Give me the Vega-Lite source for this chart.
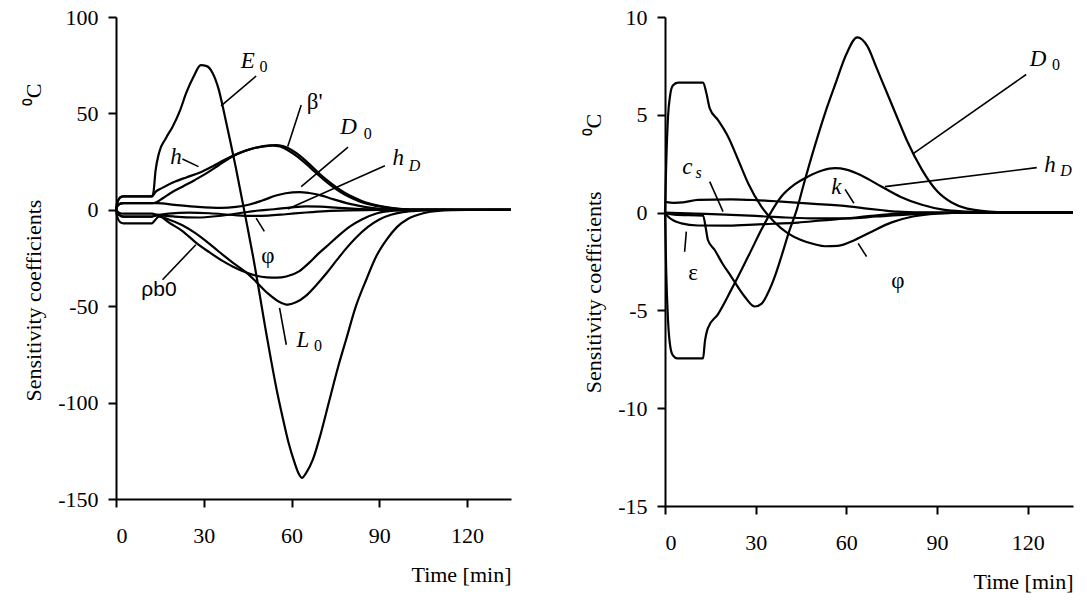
{
"$schema": "https://vega.github.io/schema/vega-lite/v6.json",
"padding": {"left": 22, "top": 6, "right": 5, "bottom": 5},
"background": "white",
"config": {
  "view": {"stroke": null},
  "font": "Liberation Serif",
  "axis": {"grid": false, "domainColor": "black", "domainWidth": 2, "tickColor": "black", "tickWidth": 2, "tickSize": 8,
    "labelFont": "Liberation Serif", "labelFontSize": 22, "labelColor": "black",
    "titleFont": "Liberation Serif", "titleFontSize": 22, "titleFontWeight": "normal", "titleColor": "black"}
},
"datasets": {
"linesL": [
{"s":"E0","t":0,"v":0},{"s":"E0","t":0.5,"v":4},{"s":"E0","t":1.5,"v":6.5},{"s":"E0","t":2.5,"v":7},{"s":"E0","t":12.3,"v":7},{"s":"E0","t":12.8,"v":9},{"s":"E0","t":13.5,"v":20},{"s":"E0","t":14.7,"v":29.5},{"s":"E0","t":17,"v":37},{"s":"E0","t":19.3,"v":43},{"s":"E0","t":22,"v":52},{"s":"E0","t":24,"v":60.6},{"s":"E0","t":26.5,"v":69},{"s":"E0","t":29,"v":75},{"s":"E0","t":31,"v":74.5},{"s":"E0","t":33,"v":71},{"s":"E0","t":35,"v":63},{"s":"E0","t":37,"v":50},{"s":"E0","t":39,"v":36},{"s":"E0","t":41,"v":21.5},{"s":"E0","t":43,"v":6},{"s":"E0","t":45,"v":-9.5},{"s":"E0","t":47,"v":-25.5},{"s":"E0","t":49,"v":-43},{"s":"E0","t":51,"v":-61},{"s":"E0","t":53,"v":-78},{"s":"E0","t":55,"v":-94},{"s":"E0","t":57,"v":-108},{"s":"E0","t":59,"v":-121},{"s":"E0","t":61,"v":-131},{"s":"E0","t":62.5,"v":-137},{"s":"E0","t":63.5,"v":-139},{"s":"E0","t":65,"v":-136.5},{"s":"E0","t":67.3,"v":-129.5},{"s":"E0","t":70,"v":-116},{"s":"E0","t":73,"v":-98.4},{"s":"E0","t":76,"v":-81},{"s":"E0","t":78.7,"v":-67},{"s":"E0","t":82,"v":-50},{"s":"E0","t":85.6,"v":-36},{"s":"E0","t":89,"v":-24},{"s":"E0","t":92.5,"v":-15.5},{"s":"E0","t":96,"v":-9},{"s":"E0","t":100,"v":-4.5},{"s":"E0","t":105,"v":-1.8},{"s":"E0","t":110,"v":-0.6},{"s":"E0","t":120,"v":-0.1},{"s":"E0","t":135,"v":0},
{"s":"h","t":0,"v":0},{"s":"h","t":0.5,"v":4},{"s":"h","t":1.5,"v":6.5},{"s":"h","t":2.5,"v":7},{"s":"h","t":12.3,"v":7},{"s":"h","t":13.5,"v":9.3},{"s":"h","t":16,"v":11.5},{"s":"h","t":20,"v":14.5},{"s":"h","t":24,"v":16.8},{"s":"h","t":28.5,"v":19.2},{"s":"h","t":33,"v":22.5},{"s":"h","t":37,"v":25.8},{"s":"h","t":42,"v":29.4},{"s":"h","t":46,"v":31.5},{"s":"h","t":50,"v":32.8},{"s":"h","t":53.6,"v":33.3},{"s":"h","t":56,"v":32.8},{"s":"h","t":59,"v":30.6},{"s":"h","t":62,"v":27.6},{"s":"h","t":65,"v":23.8},{"s":"h","t":68,"v":19.6},{"s":"h","t":71,"v":15.6},{"s":"h","t":74,"v":12},{"s":"h","t":77,"v":9},{"s":"h","t":80,"v":6.5},{"s":"h","t":83,"v":4.5},{"s":"h","t":86,"v":3},{"s":"h","t":89,"v":2},{"s":"h","t":93,"v":1},{"s":"h","t":97,"v":0.4},{"s":"h","t":105,"v":0.1},{"s":"h","t":135,"v":0},
{"s":"b","t":0,"v":0},{"s":"b","t":0.5,"v":2},{"s":"b","t":1.5,"v":3.2},{"s":"b","t":2.5,"v":3.5},{"s":"b","t":12.3,"v":3.5},{"s":"b","t":13.6,"v":3.8},{"s":"b","t":16,"v":6},{"s":"b","t":19,"v":9},{"s":"b","t":22.7,"v":12},{"s":"b","t":27,"v":15.5},{"s":"b","t":31,"v":19},{"s":"b","t":35,"v":23},{"s":"b","t":39.8,"v":27.6},{"s":"b","t":44,"v":30.5},{"s":"b","t":48,"v":32.3},{"s":"b","t":51,"v":33.2},{"s":"b","t":54.7,"v":33.6},{"s":"b","t":57,"v":33},{"s":"b","t":60,"v":31},{"s":"b","t":63,"v":27.8},{"s":"b","t":66,"v":23.8},{"s":"b","t":69,"v":19.5},{"s":"b","t":72,"v":15.5},{"s":"b","t":75,"v":12},{"s":"b","t":78,"v":9},{"s":"b","t":81,"v":6.6},{"s":"b","t":84,"v":4.6},{"s":"b","t":87,"v":3.1},{"s":"b","t":90,"v":2},{"s":"b","t":94,"v":1},{"s":"b","t":98,"v":0.4},{"s":"b","t":105,"v":0.1},{"s":"b","t":135,"v":0},
{"s":"D0","t":0,"v":0},{"s":"D0","t":0.5,"v":2},{"s":"D0","t":1.5,"v":3.2},{"s":"D0","t":2.5,"v":3.5},{"s":"D0","t":12.3,"v":3.5},{"s":"D0","t":14,"v":3.5},{"s":"D0","t":20,"v":2.6},{"s":"D0","t":28,"v":1.5},{"s":"D0","t":36,"v":1},{"s":"D0","t":41,"v":1.5},{"s":"D0","t":45.3,"v":2.6},{"s":"D0","t":50,"v":4.8},{"s":"D0","t":54.7,"v":7.4},{"s":"D0","t":58,"v":8.6},{"s":"D0","t":62.7,"v":9.2},{"s":"D0","t":66,"v":8.7},{"s":"D0","t":70,"v":7.5},{"s":"D0","t":74,"v":5.6},{"s":"D0","t":79.9,"v":3.1},{"s":"D0","t":84,"v":1.8},{"s":"D0","t":87.9,"v":0.9},{"s":"D0","t":94.8,"v":0.15},{"s":"D0","t":105,"v":0},{"s":"D0","t":135,"v":0},
{"s":"hD","t":0,"v":0},{"s":"hD","t":1,"v":-1.5},{"s":"hD","t":2.5,"v":-2},{"s":"hD","t":12.3,"v":-2},{"s":"hD","t":14,"v":-2.5},{"s":"hD","t":20,"v":-3.5},{"s":"hD","t":28,"v":-4},{"s":"hD","t":35,"v":-3.2},{"s":"hD","t":42,"v":-1.8},{"s":"hD","t":48,"v":-0.5},{"s":"hD","t":54,"v":0.3},{"s":"hD","t":60,"v":1.3},{"s":"hD","t":65,"v":1.8},{"s":"hD","t":70,"v":1.6},{"s":"hD","t":76,"v":1},{"s":"hD","t":82,"v":0.5},{"s":"hD","t":90,"v":0.15},{"s":"hD","t":100,"v":0},{"s":"hD","t":135,"v":0},
{"s":"phi","t":0,"v":0},{"s":"phi","t":1,"v":-2.5},{"s":"phi","t":2.5,"v":-3.5},{"s":"phi","t":12.3,"v":-3.5},{"s":"phi","t":13.5,"v":-3},{"s":"phi","t":18,"v":-2},{"s":"phi","t":25,"v":-1.5},{"s":"phi","t":32,"v":-1.8},{"s":"phi","t":40,"v":-2.7},{"s":"phi","t":46,"v":-3.2},{"s":"phi","t":52,"v":-3},{"s":"phi","t":58,"v":-2.3},{"s":"phi","t":65,"v":-1.4},{"s":"phi","t":72,"v":-0.7},{"s":"phi","t":80,"v":-0.3},{"s":"phi","t":90,"v":-0.05},{"s":"phi","t":100,"v":0},{"s":"phi","t":135,"v":0},
{"s":"rho","t":0,"v":0},{"s":"rho","t":1,"v":-2.5},{"s":"rho","t":2.5,"v":-3.5},{"s":"rho","t":12.3,"v":-3.5},{"s":"rho","t":13.5,"v":-2.8},{"s":"rho","t":15,"v":-3.2},{"s":"rho","t":18,"v":-6.5},{"s":"rho","t":22.7,"v":-11},{"s":"rho","t":27.3,"v":-17},{"s":"rho","t":31.9,"v":-22},{"s":"rho","t":36.4,"v":-26.5},{"s":"rho","t":40,"v":-29.5},{"s":"rho","t":44.5,"v":-32.5},{"s":"rho","t":48,"v":-34.2},{"s":"rho","t":51.5,"v":-35},{"s":"rho","t":55,"v":-35.2},{"s":"rho","t":58.2,"v":-34.6},{"s":"rho","t":62.7,"v":-31.8},{"s":"rho","t":66,"v":-27.5},{"s":"rho","t":69,"v":-23},{"s":"rho","t":72,"v":-19},{"s":"rho","t":76,"v":-13.5},{"s":"rho","t":80,"v":-8.6},{"s":"rho","t":84,"v":-5},{"s":"rho","t":89,"v":-1.9},{"s":"rho","t":94,"v":-0.6},{"s":"rho","t":100,"v":-0.15},{"s":"rho","t":110,"v":0},{"s":"rho","t":135,"v":0},
{"s":"L0","t":0,"v":0},{"s":"L0","t":0.5,"v":-4},{"s":"L0","t":1.5,"v":-6.5},{"s":"L0","t":2.5,"v":-7},{"s":"L0","t":12.3,"v":-7},{"s":"L0","t":13,"v":-6},{"s":"L0","t":14.7,"v":-3.5},{"s":"L0","t":18,"v":-5},{"s":"L0","t":22.7,"v":-8},{"s":"L0","t":27,"v":-12},{"s":"L0","t":31,"v":-16.5},{"s":"L0","t":35,"v":-21.5},{"s":"L0","t":40,"v":-27.5},{"s":"L0","t":44.5,"v":-32.5},{"s":"L0","t":48,"v":-37.5},{"s":"L0","t":52,"v":-43.5},{"s":"L0","t":55.9,"v":-47.8},{"s":"L0","t":58.7,"v":-49.2},{"s":"L0","t":61.5,"v":-48},{"s":"L0","t":65,"v":-44.5},{"s":"L0","t":68.5,"v":-39},{"s":"L0","t":72,"v":-32.8},{"s":"L0","t":75.5,"v":-26},{"s":"L0","t":78.7,"v":-20},{"s":"L0","t":82,"v":-14.5},{"s":"L0","t":86,"v":-9},{"s":"L0","t":90,"v":-5},{"s":"L0","t":94,"v":-2.6},{"s":"L0","t":98,"v":-1.2},{"s":"L0","t":104,"v":-0.4},{"s":"L0","t":112,"v":0},{"s":"L0","t":135,"v":0}
],
"linesR": [
{"s":"phi","t":0,"v":0},{"s":"phi","t":0.4,"v":2.5},{"s":"phi","t":1,"v":4.9},{"s":"phi","t":1.7,"v":6},{"s":"phi","t":2.6,"v":6.5},{"s":"phi","t":4.3,"v":6.65},{"s":"phi","t":12.6,"v":6.65},{"s":"phi","t":13.7,"v":6.1},{"s":"phi","t":14.8,"v":5.33},{"s":"phi","t":17.5,"v":4.74},{"s":"phi","t":20.8,"v":3.9},{"s":"phi","t":24.2,"v":2.7},{"s":"phi","t":27.5,"v":1.5},{"s":"phi","t":31.9,"v":0.3},{"s":"phi","t":36,"v":-0.45},{"s":"phi","t":40.7,"v":-1.06},{"s":"phi","t":45,"v":-1.4},{"s":"phi","t":49.5,"v":-1.62},{"s":"phi","t":53,"v":-1.72},{"s":"phi","t":57.2,"v":-1.7},{"s":"phi","t":62.8,"v":-1.4},{"s":"phi","t":68,"v":-1.0},{"s":"phi","t":75,"v":-0.5},{"s":"phi","t":82,"v":-0.2},{"s":"phi","t":90,"v":-0.05},{"s":"phi","t":100,"v":0},{"s":"phi","t":135,"v":0},
{"s":"hD","t":0,"v":0},{"s":"hD","t":0.4,"v":-3},{"s":"hD","t":1,"v":-5.5},{"s":"hD","t":1.7,"v":-6.8},{"s":"hD","t":2.6,"v":-7.3},{"s":"hD","t":4,"v":-7.45},{"s":"hD","t":12.6,"v":-7.45},{"s":"hD","t":13.2,"v":-6.6},{"s":"hD","t":14.2,"v":-5.9},{"s":"hD","t":17.5,"v":-5.2},{"s":"hD","t":21.9,"v":-3.95},{"s":"hD","t":27.5,"v":-2.25},{"s":"hD","t":33,"v":-0.55},{"s":"hD","t":38.5,"v":0.82},{"s":"hD","t":43,"v":1.45},{"s":"hD","t":47.3,"v":1.84},{"s":"hD","t":52,"v":2.15},{"s":"hD","t":56.2,"v":2.27},{"s":"hD","t":60,"v":2.2},{"s":"hD","t":65,"v":1.9},{"s":"hD","t":71.6,"v":1.33},{"s":"hD","t":78,"v":0.8},{"s":"hD","t":85,"v":0.4},{"s":"hD","t":92,"v":0.15},{"s":"hD","t":100,"v":0.05},{"s":"hD","t":110,"v":0},{"s":"hD","t":135,"v":0},
{"s":"D0","t":0,"v":0},{"s":"D0","t":3,"v":-0.1},{"s":"D0","t":12.6,"v":-0.15},{"s":"D0","t":13.5,"v":-0.8},{"s":"D0","t":14.2,"v":-1.4},{"s":"D0","t":16.4,"v":-1.9},{"s":"D0","t":19,"v":-2.6},{"s":"D0","t":21.9,"v":-3.27},{"s":"D0","t":26.4,"v":-4.3},{"s":"D0","t":29.7,"v":-4.8},{"s":"D0","t":32,"v":-4.65},{"s":"D0","t":34.1,"v":-4.1},{"s":"D0","t":36.5,"v":-3.2},{"s":"D0","t":38.5,"v":-2.25},{"s":"D0","t":41,"v":-1.0},{"s":"D0","t":43.5,"v":0.1},{"s":"D0","t":46,"v":1.5},{"s":"D0","t":49.5,"v":3.37},{"s":"D0","t":53,"v":5.1},{"s":"D0","t":56.2,"v":6.5},{"s":"D0","t":60,"v":8.1},{"s":"D0","t":63.6,"v":8.96},{"s":"D0","t":67,"v":8.5},{"s":"D0","t":70,"v":7.4},{"s":"D0","t":73.5,"v":6.1},{"s":"D0","t":77,"v":4.8},{"s":"D0","t":80,"v":3.7},{"s":"D0","t":85,"v":2.2},{"s":"D0","t":90,"v":1.1},{"s":"D0","t":95,"v":0.5},{"s":"D0","t":100,"v":0.2},{"s":"D0","t":110,"v":0.03},{"s":"D0","t":135,"v":0},
{"s":"k","t":0,"v":0.55},{"s":"k","t":3,"v":0.5},{"s":"k","t":6,"v":0.52},{"s":"k","t":10.9,"v":0.65},{"s":"k","t":21.9,"v":0.68},{"s":"k","t":30,"v":0.64},{"s":"k","t":38.5,"v":0.56},{"s":"k","t":47,"v":0.47},{"s":"k","t":55,"v":0.39},{"s":"k","t":60,"v":0.33},{"s":"k","t":66,"v":0.22},{"s":"k","t":72,"v":0.12},{"s":"k","t":77,"v":0.05},{"s":"k","t":85,"v":0.01},{"s":"k","t":95,"v":0},{"s":"k","t":135,"v":0},
{"s":"cs","t":0,"v":0},{"s":"cs","t":10,"v":-0.05},{"s":"cs","t":20,"v":-0.1},{"s":"cs","t":30,"v":-0.17},{"s":"cs","t":40,"v":-0.25},{"s":"cs","t":50,"v":-0.3},{"s":"cs","t":60,"v":-0.3},{"s":"cs","t":70,"v":-0.2},{"s":"cs","t":80,"v":-0.1},{"s":"cs","t":90,"v":-0.03},{"s":"cs","t":100,"v":0},{"s":"cs","t":135,"v":0},
{"s":"eps","t":0,"v":0},{"s":"eps","t":1,"v":-0.2},{"s":"eps","t":3,"v":-0.42},{"s":"eps","t":5.4,"v":-0.55},{"s":"eps","t":10.9,"v":-0.66},{"s":"eps","t":20,"v":-0.67},{"s":"eps","t":27.5,"v":-0.63},{"s":"eps","t":36,"v":-0.57},{"s":"eps","t":44,"v":-0.51},{"s":"eps","t":52,"v":-0.4},{"s":"eps","t":60.6,"v":-0.29},{"s":"eps","t":68,"v":-0.17},{"s":"eps","t":77,"v":-0.05},{"s":"eps","t":85,"v":-0.01},{"s":"eps","t":95,"v":0},{"s":"eps","t":135,"v":0}
],
"leadL": [
{"t":47.9,"v":69.4,"t2":35.9,"v2":53.9},
{"t":63.3,"v":54.4,"t2":58.7,"v2":32.8},
{"t":79.3,"v":32.5,"t2":63.3,"v2":12},
{"t":91.9,"v":22.8,"t2":58.7,"v2":0.4},
{"t":22.7,"v":26.3,"t2":28.2,"v2":22.4},
{"t":47.9,"v":-4.3,"t2":50.7,"v2":-11.2},
{"t":15.9,"v":-36.3,"t2":27.3,"v2":-18.1},
{"t":58.2,"v":-70,"t2":55.9,"v2":-50.9}
],
"leadR": [
{"t":14.8,"v":1.58,"t2":19.2,"v2":0.05},
{"t":59.6,"v":1.19,"t2":62.5,"v2":0.48},
{"t":7.05,"v":-0.97,"t2":6.5,"v2":-2.0},
{"t":63.9,"v":-1.57,"t2":66.7,"v2":-2.25},
{"t":72.8,"v":1.33,"t2":123,"v2":2.3},
{"t":119.5,"v":7.06,"t2":82,"v2":3.0}
],
"labL": [
{"t":45,"v":77.4,"txt":"E","f":"it"},
{"t":50.4,"v":74.2,"txt":"0","f":"sub"},
{"t":67.9,"v":56,"txt":"β'","f":"up"},
{"t":79.5,"v":43,"txt":"D","f":"it"},
{"t":86,"v":39.5,"txt":"0","f":"sub"},
{"t":96.5,"v":26.8,"txt":"h","f":"it"},
{"t":102,"v":22.8,"txt":"D","f":"subit"},
{"t":20.5,"v":27.6,"txt":"h","f":"it"},
{"t":51.9,"v":-24.2,"txt":"φ","f":"up"},
{"t":14.7,"v":-41.5,"txt":"ρb0","f":"sans"},
{"t":63.9,"v":-67.4,"txt":"L","f":"it"},
{"t":69,"v":-70.8,"txt":"0","f":"sub"}
],
"labR": [
{"t":123.4,"v":7.87,"txt":"D","f":"it"},
{"t":129.4,"v":7.57,"txt":"0","f":"sub"},
{"t":127.4,"v":2.45,"txt":"h","f":"it"},
{"t":132.7,"v":2.15,"txt":"D","f":"subit"},
{"t":7.4,"v":2.35,"txt":"c","f":"it"},
{"t":11.1,"v":2.0,"txt":"s","f":"subit"},
{"t":56.7,"v":1.33,"txt":"k","f":"it"},
{"t":9.3,"v":-3.1,"txt":"ε","f":"up"},
{"t":77.1,"v":-3.5,"txt":"φ","f":"up"}
]
},
"hconcat": [
{
  "width": 395, "height": 482,
  "encoding": {
    "x": {"field": "t", "type": "quantitative", "scale": {"domain": [0, 135], "nice": false, "zero": false},
      "axis": {"values": [0, 30, 60, 90, 120], "title": "Time [min]", "titleAnchor": "end", "labelPadding": 18, "titlePadding": 18,
        "labelFont": "Liberation Serif", "titleFont": "Liberation Serif"}},
    "y": {"field": "v", "type": "quantitative", "scale": {"domain": [-150, 100], "nice": false, "zero": false},
      "axis": {"values": [-150, -100, -50, 0, 50, 100], "labelExpr": "'' + datum.value",
        "title": "Sensitivity coefficients\u00a0\u00a0\u00a0\u00a0\u00a0\u00a0\u00a0\u00a0\u00a0\u00a0\u00a0\u00a0\u00a0\u00a0\u00a0\u00a0\u00a0\u2070C",
        "titleY": 225, "labelPadding": 10, "titlePadding": 12, "labelFont": "Liberation Serif", "titleFont": "Liberation Serif"}}
  },
  "layer": [
    {"data": {"name": "linesL"}, "mark": {"type": "line", "color": "black", "strokeWidth": 2.2, "interpolate": "monotone"},
     "encoding": {"detail": {"field": "s"}}},
    {"data": {"name": "leadL"}, "mark": {"type": "rule", "color": "black", "strokeWidth": 1.6},
     "encoding": {"x2": {"field": "t2"}, "y2": {"field": "v2"}}},
    {"data": {"name": "labL"}, "transform": [{"filter": "datum.f==='it'"}], "mark": {"type": "text", "font": "Liberation Serif", "fontStyle": "italic", "fontSize": 23, "color": "black"}, "encoding": {"text": {"field": "txt"}}},
    {"data": {"name": "labL"}, "transform": [{"filter": "datum.f==='up'"}], "mark": {"type": "text", "font": "Liberation Serif", "fontSize": 23, "color": "black"}, "encoding": {"text": {"field": "txt"}}},
    {"data": {"name": "labL"}, "transform": [{"filter": "datum.f==='sub'"}], "mark": {"type": "text", "font": "Liberation Serif", "fontSize": 16, "color": "black"}, "encoding": {"text": {"field": "txt"}}},
    {"data": {"name": "labL"}, "transform": [{"filter": "datum.f==='subit'"}], "mark": {"type": "text", "font": "Liberation Serif", "fontStyle": "italic", "fontSize": 16, "color": "black"}, "encoding": {"text": {"field": "txt"}}},
    {"data": {"name": "labL"}, "transform": [{"filter": "datum.f==='sans'"}], "mark": {"type": "text", "font": "Liberation Sans", "fontSize": 21, "color": "black"}, "encoding": {"text": {"field": "txt"}}}
  ]
},
{
  "width": 408, "height": 489,
  "encoding": {
    "x": {"field": "t", "type": "quantitative", "scale": {"domain": [0, 135], "nice": false, "zero": false},
      "axis": {"values": [0, 30, 60, 90, 120], "title": "Time [min]", "titleAnchor": "end", "labelPadding": 18, "titlePadding": 18,
        "labelFont": "Liberation Serif", "titleFont": "Liberation Serif"}},
    "y": {"field": "v", "type": "quantitative", "scale": {"domain": [-15, 10], "nice": false, "zero": false},
      "axis": {"values": [-15, -10, -5, 0, 5, 10], "labelExpr": "'' + datum.value",
        "title": "Sensitivity coefficients\u00a0\u00a0\u00a0\u00a0\u00a0\u00a0\u00a0\u00a0\u00a0\u00a0\u2070C",
        "titleY": 236, "labelPadding": 10, "titlePadding": 12, "labelFont": "Liberation Serif", "titleFont": "Liberation Serif"}}
  },
  "layer": [
    {"data": {"name": "linesR"}, "mark": {"type": "line", "color": "black", "strokeWidth": 2.2, "interpolate": "monotone"},
     "encoding": {"detail": {"field": "s"}}},
    {"data": {"name": "leadR"}, "mark": {"type": "rule", "color": "black", "strokeWidth": 1.6},
     "encoding": {"x2": {"field": "t2"}, "y2": {"field": "v2"}}},
    {"data": {"name": "labR"}, "transform": [{"filter": "datum.f==='it'"}], "mark": {"type": "text", "font": "Liberation Serif", "fontStyle": "italic", "fontSize": 23, "color": "black"}, "encoding": {"text": {"field": "txt"}}},
    {"data": {"name": "labR"}, "transform": [{"filter": "datum.f==='up'"}], "mark": {"type": "text", "font": "Liberation Serif", "fontSize": 23, "color": "black"}, "encoding": {"text": {"field": "txt"}}},
    {"data": {"name": "labR"}, "transform": [{"filter": "datum.f==='sub'"}], "mark": {"type": "text", "font": "Liberation Serif", "fontSize": 16, "color": "black"}, "encoding": {"text": {"field": "txt"}}},
    {"data": {"name": "labR"}, "transform": [{"filter": "datum.f==='subit'"}], "mark": {"type": "text", "font": "Liberation Serif", "fontStyle": "italic", "fontSize": 16, "color": "black"}, "encoding": {"text": {"field": "txt"}}}
  ]
}
],
"spacing": 66
}
